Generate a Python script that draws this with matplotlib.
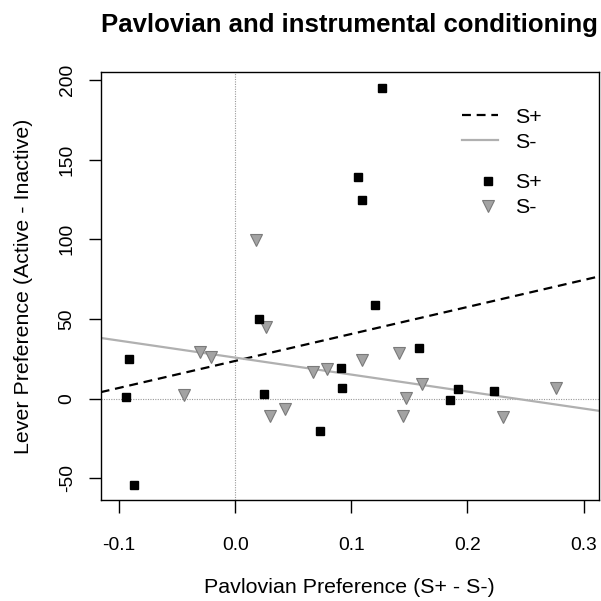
import numpy as np
import matplotlib
matplotlib.use("Agg")
import matplotlib.pyplot as plt
from matplotlib.lines import Line2D

plt.rcParams['font.family'] = ['Liberation Sans', 'DejaVu Sans']

# S+ data (Pavlovian preference, lever preference)
splus_x = [0.1264, 0.1055, 0.1089, 0.1204, 0.0207, -0.0917, -0.0942, -0.0871,
           0.0247, 0.0733, 0.0914, 0.0922, 0.1580, 0.1848, 0.1922, 0.2233]
splus_y = [195, 139, 125, 59, 50, 25, 1, -54, 3, -20, 19, 7, 32, -1, 6, 5]

# S- data
sminus_x = [0.0181, 0.0267, -0.0302, -0.0210, -0.0440, 0.0296, 0.0431, 0.0667,
            0.0790, 0.1095, 0.1414, 0.1612, 0.1471, 0.1445, 0.2307, 0.2761]
sminus_y = [99.5, 45, 29.5, 26, 2.3, -11, -6.7, 16.7, 18.6, 24.3, 28.5, 9.2,
            0.6, -10.9, -11.7, 6.5]

xticks = [-0.1, 0.0, 0.1, 0.2, 0.3]
xticklabels = ["-0.1", "0.0", "0.1", "0.2", "0.3"]
yticks = [-50, 0, 50, 100, 150, 200]
yticklabels = ["-50", "0", "50", "100", "150", "200"]

W, H = 601, 601
fig = plt.figure(figsize=(W / 100, H / 100), dpi=100)
L, R, T, B = 100.7, 598.5, 72.3, 500.0
ax = fig.add_axes([L / W, (H - B) / H, (R - L) / W, (B - T) / H])

xlim = (-0.1158, 0.3129)
ylim = (-63.5, 204.8)
ax.set_xlim(*xlim)
ax.set_ylim(*ylim)

grey_fill = '#a3a3a3'
grey_edge = '#7a7a7a'
grey_line = '#b0b0b0'

ax.axvline(0, color='#999999', lw=0.8, ls=(0, (1, 1.2)), zorder=1)
ax.axhline(0, color='#999999', lw=0.8, ls=(0, (1, 1.2)), zorder=1)

xs = np.array(xlim)
b1, a1 = np.polyfit(splus_x, splus_y, 1)
b2, a2 = np.polyfit(sminus_x, sminus_y, 1)
ax.plot(xs, a1 + b1 * xs, color='black', lw=1.6, ls=(0, (4, 2.6)), zorder=2)
ax.plot(xs, a2 + b2 * xs, color=grey_line, lw=1.6, ls='-', zorder=2)

ax.plot(splus_x, splus_y, ls='none', marker='s', ms=6.3, mfc='black',
        mec='black', zorder=4)
ax.plot(sminus_x, sminus_y, ls='none', marker='v', ms=8.2, mfc=grey_fill,
        mec=grey_edge, mew=0.8, zorder=3)

ax.set_xticks(xticks)
ax.set_xticklabels(xticklabels)
ax.set_yticks(yticks)
ax.set_yticklabels(yticklabels, rotation=90, va='center')
ax.tick_params(axis='both', length=9, width=1.0, labelsize=13.9, direction='out')
ax.tick_params(axis='x', pad=18)
ax.tick_params(axis='y', pad=9)
for s in ax.spines.values():
    s.set_linewidth(1.0)

ax.set_xlabel("Pavlovian Preference (S+ - S-)", fontsize=15.4, va='baseline')
ax.xaxis.set_label_coords(0.5, (B - 593.3) / (B - T))
ax.set_ylabel("Lever Preference (Active - Inactive)", fontsize=15.4, va='center', ha='center')
ax.yaxis.set_label_coords((24 - L) / (R - L), 0.5)

fig.text((L + R) / 2 / W, 1 - 32.3 / H, "Pavlovian and instrumental conditioning",
         fontsize=18.5, fontweight='bold', ha='center', va='baseline')

h1 = [Line2D([], [], color='black', lw=1.6, ls=(0, (4, 2.6))),
      Line2D([], [], color=grey_line, lw=1.6)]
leg1 = ax.legend(h1, ["S+", "S-"], frameon=False, fontsize=15.4,
                 loc='center left', bbox_to_anchor=((461.7 - L) / (R - L), (B - 129.8) / (B - T)),
                 handlelength=1.7, handletextpad=0.8, labelspacing=0.27, borderpad=0, borderaxespad=0)
ax.add_artist(leg1)
h2 = [Line2D([], [], ls='none', marker='s', ms=6.3, mfc='black', mec='black'),
      Line2D([], [], ls='none', marker='v', ms=8.2, mfc=grey_fill, mec=grey_edge, mew=0.8)]
leg2 = ax.legend(h2, ["S+", "S-"], frameon=False, fontsize=15.4,
                 loc='center left', bbox_to_anchor=((479.3 - L) / (R - L), (B - 195.2) / (B - T)),
                 handlelength=0.84, handletextpad=0.84, labelspacing=0.27, borderpad=0, borderaxespad=0)

fig.savefig("out.png", dpi=100)
